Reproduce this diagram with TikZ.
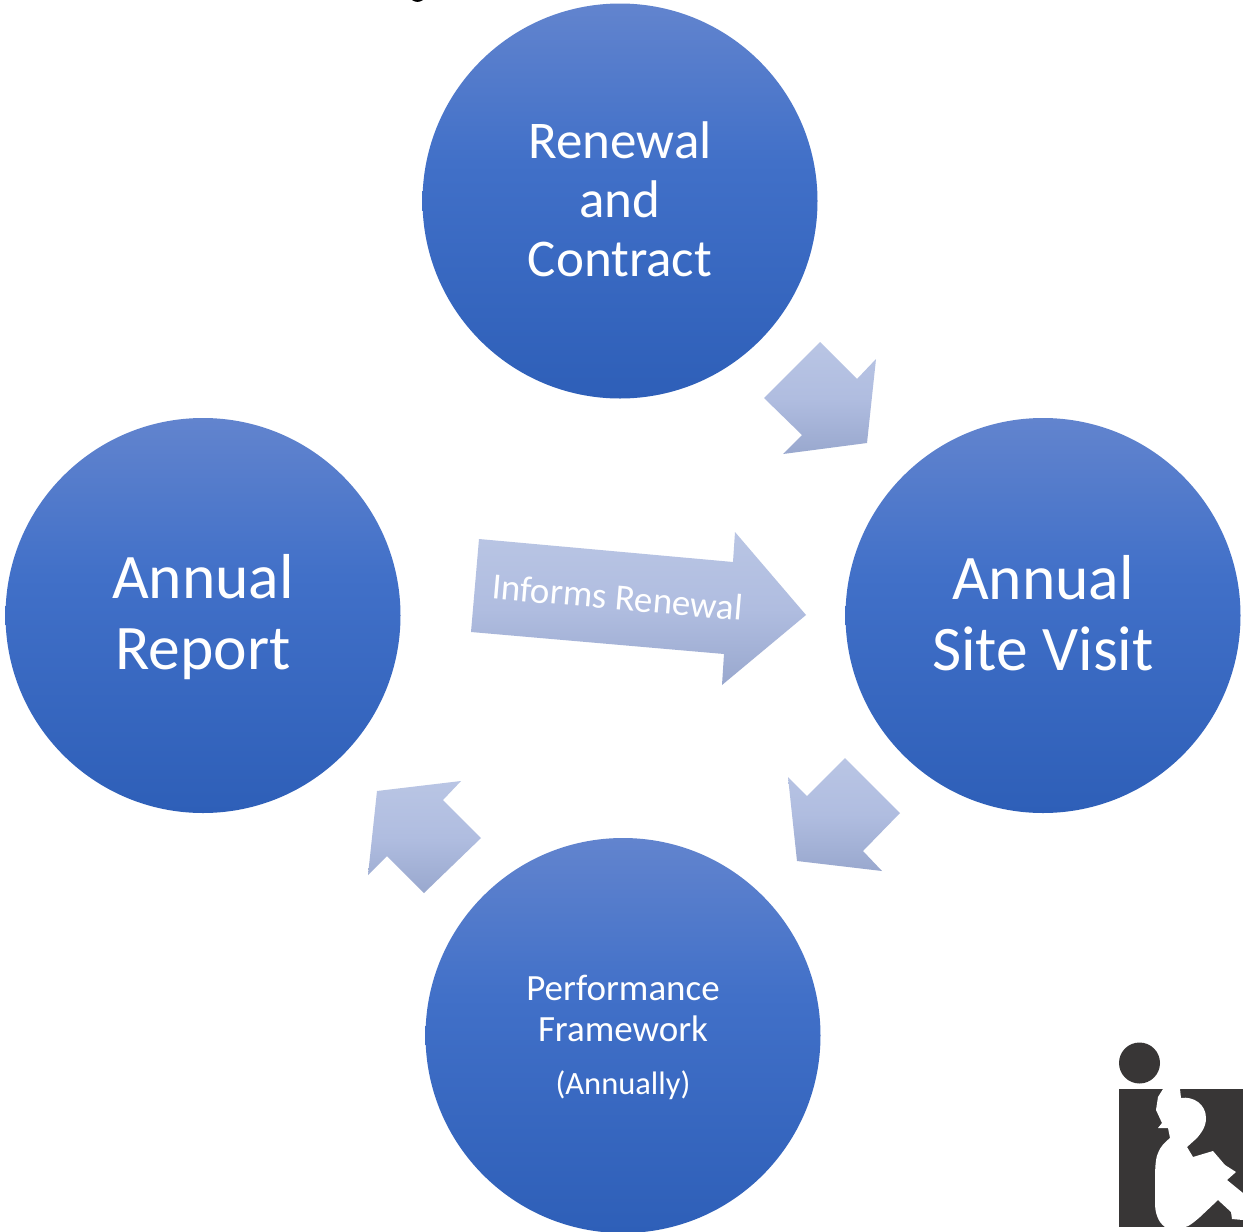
\documentclass[tikz,border=0pt]{standalone}
\usepackage{fontspec}
\setmainfont{Carlito}
\definecolor{ctop}{RGB}{98,132,206}
\definecolor{cmid}{RGB}{65,112,200}
\definecolor{cbot}{RGB}{46,95,184}
\definecolor{atop}{RGB}{185,197,228}
\definecolor{amid}{RGB}{176,189,224}
\definecolor{abot}{RGB}{153,168,206}
\definecolor{logodark}{RGB}{56,54,54}
\pgfdeclareverticalshading{discshade}{100bp}{color(0bp)=(cbot); color(25bp)=(cbot); color(55bp)=(cmid); color(75bp)=(ctop); color(100bp)=(ctop)}
\pgfdeclareverticalshading{arrowshade}{100bp}{color(0bp)=(abot); color(25bp)=(abot); color(50bp)=(amid); color(75bp)=(atop); color(100bp)=(atop)}
\tikzset{
  disc/.style={circle,minimum size=395pt,inner sep=0pt,shading=discshade,text=white,align=center},
  blockarrow/.style={shading=arrowshade,draw=none},
  biglabel/.style={font=\fontsize{63.5}{71}\selectfont},
  midlabel/.style={font=\fontsize{53}{59}\selectfont},
  smalllabel/.style={font=\fontsize{37}{41}\selectfont},
}
\begin{document}
\begin{tikzpicture}[x=1pt,y=-1pt]
\useasboundingbox (0,0) rectangle (1243,1232);
\fill[white] (0,0) rectangle (1243,1232);
\fill[black] (412,0) .. controls (415,2.5) and (420,2.5) .. (423,0) -- cycle;
\node[disc] (renewal) at (620,201) {};
\node[disc] (sitevisit) at (1043,615.5) {};
\node[disc] (report) at (203,615.5) {};
\node[disc] (framework) at (623,1035.5) {};
\node[text=white,midlabel,align=center] (renewaltext) at (620,199.5) {Renewal\\and\\Contract};
\node[text=white,biglabel,align=center] (sitetext) at (1043,613.5) {Annual\\Site Visit};
\node[text=white,biglabel,align=center] (reporttext) at (203,617.5) {Annual\\Report};
\node[text=white,smalllabel,align=center] (frameworktext) at (623,1008.5) {Performance\\Framework};
\node[text=white,font=\fontsize{32.5}{37}\selectfont] (annually) at (623,1085.5) {(Annually)};
\path[blockarrow] (820,342) -- (857,379) -- (876,359) -- (867,443) -- (783,454) -- (802,435) -- (764,398) -- cycle;
\path[blockarrow] (845,758) -- (900,813) -- (863,851) -- (882,871) -- (797,861) -- (788,777) -- (807,796) -- cycle;
\path[blockarrow] (461,781) -- (443,800) -- (481,838) -- (424,893) -- (387,856) -- (368,875) -- (377,791) -- cycle;
\path[blockarrow] (479,539) -- (733,562) -- (735,532) -- (806,615) -- (722,685) -- (724,654) -- (471,632) -- cycle;
\node[text=white,rotate=-5,font=\fontsize{37}{41}\selectfont] (informs) at (617.5,597) {Informs Renewal};
% logo
\fill[logodark] (1139.5,1063) circle (20.5);
\fill[logodark] (1119,1089) rectangle (1243,1227);
\fill[white] (1163,1089) -- (1180,1089) -- (1181,1098)
  .. controls (1193,1096) and (1206,1104) .. (1206,1118)
  .. controls (1206,1128) and (1200,1134) .. (1197,1138)
  -- (1187,1147) -- (1193,1157) -- (1213,1151) -- (1225,1165) -- (1236,1172) -- (1227,1180) -- (1243,1193) -- (1243,1220) -- (1232,1219) -- (1231,1212) -- (1218,1200) -- (1200,1217)
  .. controls (1193,1223) and (1188,1227) .. (1185,1227)
  -- (1165,1227)
  .. controls (1158,1222) and (1155,1213) .. (1155,1203)
  -- (1155,1180)
  .. controls (1155,1165) and (1156,1157) .. (1158,1153)
  .. controls (1160,1147) and (1165,1142) .. (1170,1138)
  -- (1168,1128) -- (1158,1128) -- (1162,1123) -- (1156,1110) -- (1158,1097) -- cycle;
\end{tikzpicture}
\end{document}
